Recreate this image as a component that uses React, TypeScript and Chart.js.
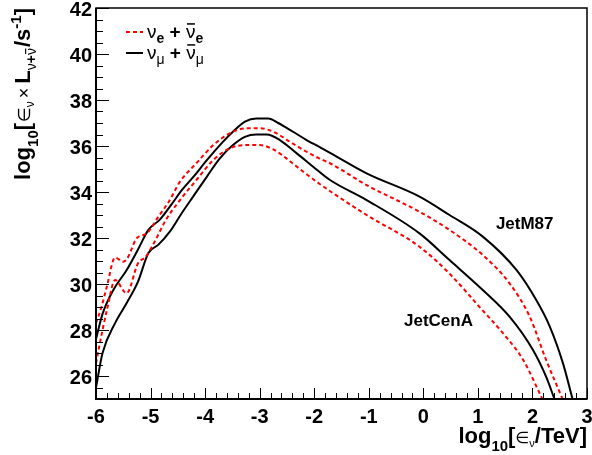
import React, { useEffect, useRef } from "react";
import { Chart, registerables } from "chart.js";

Chart.register(...registerables);

// ---- Data (log10 E [TeV] vs log10 L) ----
const m87NumuX = [-6.0, -5.88, -5.68, -5.44, -5.23, -5.04, -4.83, -4.62, -4.42, -4.2, -3.98, -3.67, -3.49, -3.27, -3.06, -2.84, -2.66, -2.39, -2.14, -1.9, -1.71, -1.04, -0.07, 0.48, 1.09, 1.71, 2.07, 2.32, 2.56, 2.74];
const m87NumuY = [27.6, 28.7, 29.75, 30.6, 31.5, 32.35, 32.8, 33.45, 34.1, 34.7, 35.35, 36.19, 36.62, 37.06, 37.2, 37.2, 37.0, 36.62, 36.26, 35.95, 35.7, 34.81, 33.8, 33.0, 32.06, 30.6, 29.3, 28.14, 26.55, 24.96];

const m87NueX = [-6.0, -5.9, -5.8, -5.65, -5.5, -5.43, -5.25, -5.07, -4.85, -4.66, -4.46, -4.16, -3.85, -3.55, -3.24, -3.0, -2.75, -2.45, -2.14, -1.9, -1.71, -1.04, -0.07, 0.48, 1.09, 1.58, 1.95, 2.25, 2.56];
const m87NueY = [28.3, 29.0, 29.9, 31.15, 30.97, 31.1, 32.0, 32.2, 32.95, 33.6, 34.45, 35.25, 36.04, 36.55, 36.77, 36.77, 36.62, 36.19, 35.75, 35.45, 35.25, 34.3, 33.14, 32.35, 31.26, 30.03, 28.58, 26.7, 24.96];

const cenNumuX = [-6.0, -5.88, -5.65, -5.44, -5.23, -5.04, -4.86, -4.64, -4.45, -4.22, -3.97, -3.73, -3.49, -3.27, -3.06, -2.87, -2.63, -2.32, -2.02, -1.71, -1.04, -0.07, 0.48, 1.09, 1.58, 2.01, 2.25, 2.41];
const cenNumuY = [25.5, 27.0, 28.3, 29.16, 30.1, 31.35, 31.7, 32.3, 33.0, 33.8, 34.66, 35.46, 36.04, 36.4, 36.5, 36.5, 36.26, 35.68, 35.1, 34.52, 33.65, 32.2, 31.04, 29.74, 28.58, 27.13, 25.97, 24.96];

const cenNueX = [-6.0, -5.93, -5.8, -5.65, -5.44, -5.23, -5.09, -4.94, -4.72, -4.46, -4.16, -3.85, -3.55, -3.24, -3.0, -2.75, -2.51, -2.2, -1.9, -1.04, -0.07, 0.5, 1.03, 1.46, 1.83, 2.19];
const cenNueY = [26.55, 27.42, 28.87, 30.17, 29.6, 30.9, 31.18, 31.77, 32.78, 33.65, 34.52, 35.39, 35.9, 36.04, 36.04, 35.85, 35.46, 34.88, 34.35, 33.0, 31.62, 30.4, 29.0, 27.86, 26.7, 24.96];

const xMajorTicks = [-6, -5, -4, -3, -2, -1, 0, 1, 2, 3];
const xTickLabels = ["-6", "-5", "-4", "-3", "-2", "-1", "0", "1", "2", "3"];
const yMajorTicks = [26, 28, 30, 32, 34, 36, 38, 40, 42];
const yTickLabels = ["26", "28", "30", "32", "34", "36", "38", "40", "42"];
const sourceNames = ["JetM87", "JetCenA"];
const sourceAnchorX = [1.33, -0.355];
const sourceAnchorY = [32.39, 28.17];

const X_MIN = -6, X_MAX = 3, Y_MIN = 25, Y_MAX = 42;
const X_MINOR = 0.2, Y_MINOR = 0.5;

const SANS = "'Liberation Sans', Arial, Helvetica, sans-serif";
const SYM = "'DejaVu Sans', sans-serif";

type Run = { t: string; size: number; bold?: boolean; dy?: number; fam?: string; over?: boolean; gap?: number };

function fontOf(r: Run) {
  return `${r.bold ? "bold " : ""}${r.size}px ${r.fam ?? SANS}`;
}
function runsWidth(ctx: CanvasRenderingContext2D, runs: Run[]) {
  let w = 0;
  for (const r of runs) {
    ctx.font = fontOf(r);
    w += ctx.measureText(r.t).width + (r.gap ?? 0);
  }
  return w;
}
function drawRuns(ctx: CanvasRenderingContext2D, runs: Run[], x: number, y: number) {
  let cx = x;
  ctx.textAlign = "left";
  ctx.textBaseline = "alphabetic";
  for (const r of runs) {
    ctx.font = fontOf(r);
    const w = ctx.measureText(r.t).width;
    const by = y + (r.dy ?? 0);
    ctx.fillText(r.t, cx, by);
    if (r.over) {
      ctx.save();
      ctx.lineWidth = Math.max(1, r.size * 0.08);
      ctx.beginPath();
      const oy = by - r.size * 0.74;
      ctx.moveTo(cx + 1, oy);
      ctx.lineTo(cx + w - 0.5, oy);
      ctx.stroke();
      ctx.restore();
    }
    cx += w + (r.gap ?? 0);
  }
}

const pts = (xs: number[], ys: number[]) => xs.map((x, i) => ({ x, y: ys[i] }));

const rootPlugin = {
  id: "rootFrame",
  afterDraw(chart: any) {
    const ctx: CanvasRenderingContext2D = chart.ctx;
    const xs = chart.scales.x;
    const ys = chart.scales.y;
    const { left, right, top, bottom } = chart.chartArea;
    ctx.save();
    ctx.strokeStyle = "#000";
    ctx.fillStyle = "#000";

    // frame
    ctx.lineWidth = 1.5;
    ctx.strokeRect(left, top, right - left, bottom - top);
    ctx.lineWidth = 2;
    ctx.beginPath();
    ctx.moveTo(left, top);
    ctx.lineTo(left, bottom);
    ctx.lineTo(right, bottom);
    ctx.stroke();

    // ticks
    ctx.lineWidth = 1;
    ctx.beginPath();
    const nX = Math.round((X_MAX - X_MIN) / X_MINOR);
    for (let i = 0; i <= nX; i++) {
      const v = X_MIN + i * X_MINOR;
      const major = Math.abs(v - Math.round(v)) < 1e-6;
      const px = Math.round(xs.getPixelForValue(v)) + 0.5;
      ctx.moveTo(px, bottom);
      ctx.lineTo(px, bottom - (major ? 11 : 6));
    }
    const nY = Math.round((Y_MAX - Y_MIN) / Y_MINOR);
    for (let i = 0; i <= nY; i++) {
      const v = Y_MIN + i * Y_MINOR;
      const major = Math.abs(v / 2 - Math.round(v / 2)) < 1e-6;
      const py = Math.round(ys.getPixelForValue(v)) + 0.5;
      ctx.moveTo(left, py);
      ctx.lineTo(left + (major ? 13 : 7), py);
    }
    ctx.stroke();

    // tick labels
    ctx.font = `bold 20px ${SANS}`;
    ctx.textBaseline = "alphabetic";
    ctx.textAlign = "center";
    xMajorTicks.forEach((v, i) => {
      ctx.fillText(xTickLabels[i], xs.getPixelForValue(v), 423);
    });
    ctx.textAlign = "right";
    yMajorTicks.forEach((v, i) => {
      ctx.fillText(yTickLabels[i], left - 4, ys.getPixelForValue(v) + 8);
    });

    // x title
    const xTitle: Run[] = [
      { t: "log", size: 22, bold: true },
      { t: "10", size: 15, bold: true, dy: 8 },
      { t: "[", size: 22, bold: true },
      { t: "\u2208", size: 16, fam: SYM },
      { t: "\u03bd", size: 11, dy: 4 },
      { t: "/TeV]", size: 22, bold: true },
    ];
    const xw = runsWidth(ctx, xTitle);
    drawRuns(ctx, xTitle, right - xw, 443);

    // y title (rotated)
    const yTitle: Run[] = [
      { t: "log", size: 22, bold: true },
      { t: "10", size: 15, bold: true, dy: 8 },
      { t: "[", size: 22, bold: true, gap: 1 },
      { t: "\u2208", size: 17, fam: SYM },
      { t: "\u03bd", size: 12, dy: 4, gap: 3 },
      { t: "\u00d7", size: 18, gap: 4 },
      { t: "L", size: 22, bold: true },
      { t: "\u03bd", size: 14, dy: 6 },
      { t: "+", size: 14, bold: true, dy: 6 },
      { t: "\u03bd", size: 14, dy: 6, over: true, gap: 1 },
      { t: "/s", size: 22, bold: true },
      { t: "-1", size: 15, bold: true, dy: -9 },
      { t: "]", size: 22, bold: true },
    ];
    const yw = runsWidth(ctx, yTitle);
    ctx.save();
    ctx.translate(30, top + yw);
    ctx.rotate(-Math.PI / 2);
    drawRuns(ctx, yTitle, 0, 0);
    ctx.restore();

    // legend
    const legendRows: { color: string; dash: number[]; runs: Run[] }[] = [
      {
        color: "#ff0000",
        dash: [4, 3],
        runs: [
          { t: "\u03bd", size: 19 },
          { t: "e", size: 14, bold: true, dy: 5 },
          { t: " + ", size: 19, bold: true },
          { t: "\u03bd", size: 19, over: true },
          { t: "e", size: 14, bold: true, dy: 5 },
        ],
      },
      {
        color: "#000000",
        dash: [],
        runs: [
          { t: "\u03bd", size: 19 },
          { t: "\u03bc", size: 14, dy: 5 },
          { t: " + ", size: 19, bold: true },
          { t: "\u03bd", size: 19, over: true },
          { t: "\u03bc", size: 14, dy: 5 },
        ],
      },
    ];
    const rowY = [32, 53];
    legendRows.forEach((row, i) => {
      ctx.save();
      ctx.strokeStyle = row.color;
      ctx.lineWidth = 2;
      ctx.setLineDash(row.dash);
      ctx.beginPath();
      ctx.moveTo(126, rowY[i]);
      ctx.lineTo(143, rowY[i]);
      ctx.stroke();
      ctx.restore();
      drawRuns(ctx, row.runs, 147, rowY[i] + 6);
    });

    // source labels
    ctx.font = `bold 17px ${SANS}`;
    ctx.textAlign = "left";
    ctx.textBaseline = "alphabetic";
    sourceNames.forEach((name, i) => {
      ctx.fillText(name, xs.getPixelForValue(sourceAnchorX[i]), ys.getPixelForValue(sourceAnchorY[i]));
    });

    ctx.restore();
  },
};

export default function App() {
  const canvasRef = useRef<HTMLCanvasElement | null>(null);

  useEffect(() => {
    document.body.style.margin = "0";
    const canvas = canvasRef.current;
    if (!canvas) return;
    const dashed = { borderColor: "#ff0000", borderWidth: 2, borderDash: [4, 3] };
    const solid = { borderColor: "#000000", borderWidth: 2 };
    const chart = new Chart(canvas, {
      type: "line",
      data: {
        datasets: [
          { label: "M87 nu_e", data: pts(m87NueX, m87NueY), ...dashed },
          { label: "CenA nu_e", data: pts(cenNueX, cenNueY), ...dashed },
          { label: "M87 nu_mu", data: pts(m87NumuX, m87NumuY), ...solid },
          { label: "CenA nu_mu", data: pts(cenNumuX, cenNumuY), ...solid },
        ] as any,
      },
      options: {
        animation: false,
        responsive: false,
        devicePixelRatio: 1,
        layout: { padding: { left: 96, right: 5, top: 8, bottom: 56 } },
        elements: {
          point: { radius: 0 },
          line: { cubicInterpolationMode: "monotone", fill: false },
        },
        plugins: { legend: { display: false }, tooltip: { enabled: false } },
        scales: {
          x: { type: "linear", min: X_MIN, max: X_MAX, display: false },
          y: { type: "linear", min: Y_MIN, max: Y_MAX, display: false },
        },
      },
      plugins: [rootPlugin],
    });
    return () => chart.destroy();
  }, []);

  return (
    <div style={{ position: "absolute", left: 0, top: 0, width: 592, height: 455, background: "#fff" }}>
      <canvas ref={canvasRef} width={592} height={455} style={{ display: "block" }} />
    </div>
  );
}
